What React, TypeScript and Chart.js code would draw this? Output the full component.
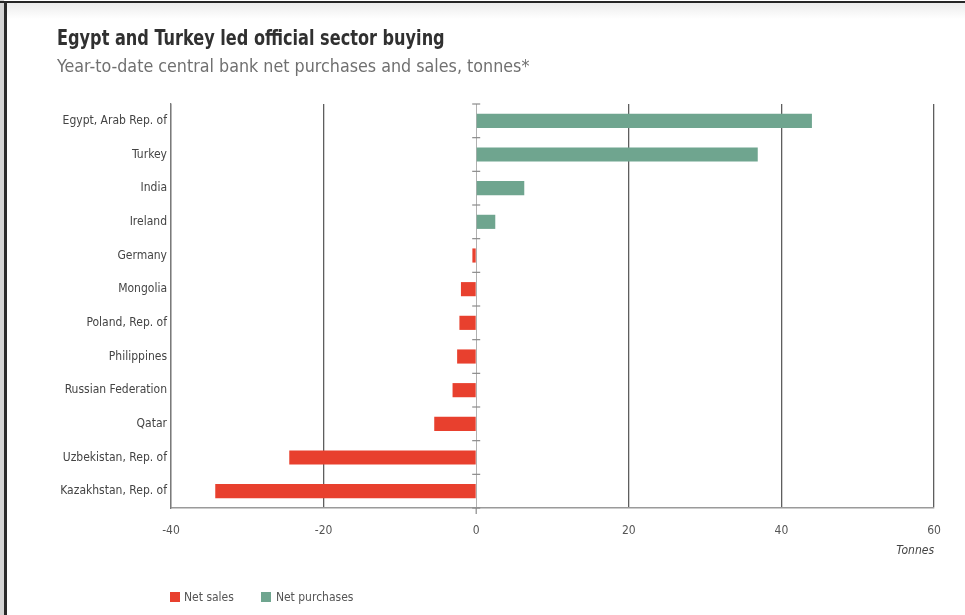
import { useEffect, useRef } from 'react';
import { Chart, registerables } from 'chart.js';

Chart.register(...registerables);

const countries = [
  'Egypt, Arab Rep. of',
  'Turkey',
  'India',
  'Ireland',
  'Germany',
  'Mongolia',
  'Poland, Rep. of',
  'Philippines',
  'Russian Federation',
  'Qatar',
  'Uzbekistan, Rep. of',
  'Kazakhstan, Rep. of',
];
const netSales: (number | null)[] = [null, null, null, null, -0.5, -2.0, -2.2, -2.5, -3.1, -5.5, -24.5, -34.2];
const netPurchases: (number | null)[] = [44.0, 36.9, 6.3, 2.5, null, null, null, null, null, null, null, null];
const xTickValues = [-40, -20, 0, 20, 40, 60];

const RED = '#e8402e';
const GREEN = '#6fa58f';
const NARROW = "'Liberation Sans Narrow', 'DejaVu Sans Condensed', 'Roboto Condensed', sans-serif";

const zeroTicks = {
  id: 'zeroTicks',
  afterDatasetsDraw(chart: any) {
    const x = chart.scales.x;
    const y = chart.scales.y;
    const px = x.getPixelForValue(0);
    const ctx = chart.ctx;
    ctx.save();
    ctx.strokeStyle = '#8a8a8a';
    ctx.lineWidth = 1.2;
    for (let i = 0; i <= countries.length; i++) {
      const py = y.getPixelForValue(i - 0.5);
      ctx.beginPath();
      ctx.moveTo(px - 4, py);
      ctx.lineTo(px + 4, py);
      ctx.stroke();
    }
    ctx.beginPath();
    ctx.moveTo(px, chart.chartArea.bottom);
    ctx.lineTo(px, chart.chartArea.bottom + 6);
    ctx.stroke();
    ctx.restore();
  },
};

export default function App() {
  const ref = useRef<HTMLCanvasElement | null>(null);

  useEffect(() => {
    document.body.style.margin = '0';
    if (!ref.current) return;
    const chart = new Chart(ref.current, {
      type: 'bar',
      data: {
        labels: countries,
        datasets: [
          {
            label: 'Net sales',
            data: netSales,
            backgroundColor: RED,
            barPercentage: 0.42,
            categoryPercentage: 1,
          },
          {
            label: 'Net purchases',
            data: netPurchases,
            backgroundColor: GREEN,
            barPercentage: 0.42,
            categoryPercentage: 1,
          },
        ],
      },
      options: {
        indexAxis: 'y',
        animation: false,
        responsive: false,
        maintainAspectRatio: false,
        layout: { padding: { left: 0, right: 31, top: 104, bottom: 55 } },
        plugins: {
          legend: { display: false },
          tooltip: { enabled: false },
        },
        scales: {
          x: {
            stacked: true,
            min: -40,
            max: 60,
            afterBuildTicks: (scale: any) => {
              scale.ticks = xTickValues.map((v) => ({ value: v }));
            },
            afterFit: (scale: any) => {
              scale.height = 52;
            },
            grid: {
              drawTicks: false,
              color: (c: any) => (c.tick && c.tick.value === 0 ? '#b0b0b0' : '#5e5e5e'),
              lineWidth: (c: any) => (c.tick && c.tick.value === 0 ? 1 : 1.3),
            },
            border: { display: true, color: '#9a9a9a', width: 1.5 },
            ticks: {
              padding: 16,
              color: '#555',
              font: { family: NARROW, size: 12 },
            },
            title: {
              display: true,
              text: 'Tonnes',
              align: 'end',
              color: '#444',
              font: { family: NARROW, size: 12, style: 'italic' },
              padding: { top: 6, bottom: 2 },
            },
          },
          y: {
            stacked: true,
            afterFit: (scale: any) => {
              scale.width = 171;
            },
            grid: { display: false, drawTicks: false },
            border: { display: true, color: '#7a7a7a', width: 1.3 },
            ticks: {
              padding: 4,
              color: '#444',
              font: { family: NARROW, size: 12 },
            },
          },
        },
      },
      plugins: [zeroTicks],
    });
    return () => chart.destroy();
  }, []);

  return (
    <div
      style={{
        position: 'relative',
        width: 965,
        height: 615,
        background: '#fff',
        overflow: 'hidden',
      }}
    >
      <div
        style={{
          position: 'absolute',
          left: 0,
          top: 3,
          width: 965,
          height: 16,
          background: 'linear-gradient(#ececec, #ffffff)',
        }}
      />
      <div style={{ position: 'absolute', left: 0, top: 0, width: 4, height: 615, background: '#d4d4d4' }} />
      <div style={{ position: 'absolute', left: 0, top: 1, width: 965, height: 2, background: '#262626' }} />
      <div style={{ position: 'absolute', left: 4, top: 1, width: 3, height: 614, background: '#2a2a2a' }} />
      <canvas
        ref={ref}
        width={965}
        height={615}
        style={{ position: 'absolute', left: 0, top: 0, width: 965, height: 615 }}
      />
      <div
        style={{
          position: 'absolute',
          left: 57,
          top: 25,
          fontFamily: NARROW,
          fontWeight: 'bold',
          fontSize: 22,
          color: '#303030',
          whiteSpace: 'nowrap',
          transform: 'scaleX(0.815)',
          transformOrigin: 'left top',
        }}
      >
        Egypt and Turkey led official sector buying
      </div>
      <div
        style={{
          position: 'absolute',
          left: 57,
          top: 55,
          fontFamily: NARROW,
          fontSize: 18,
          color: '#707070',
          whiteSpace: 'nowrap',
          transform: 'scaleX(0.985)',
          transformOrigin: 'left top',
        }}
      >
        Year-to-date central bank net purchases and sales, tonnes*
      </div>
      <div
        style={{
          position: 'absolute',
          left: 170,
          top: 590,
          display: 'flex',
          alignItems: 'center',
          fontFamily: NARROW,
          fontSize: 12,
          color: '#555',
          whiteSpace: 'nowrap',
        }}
      >
        <span style={{ display: 'inline-block', width: 10, height: 10, background: RED, marginRight: 4 }} />
        <span style={{ marginRight: 27 }}>Net sales</span>
        <span style={{ display: 'inline-block', width: 10, height: 10, background: GREEN, marginRight: 5 }} />
        <span>Net purchases</span>
      </div>
    </div>
  );
}
